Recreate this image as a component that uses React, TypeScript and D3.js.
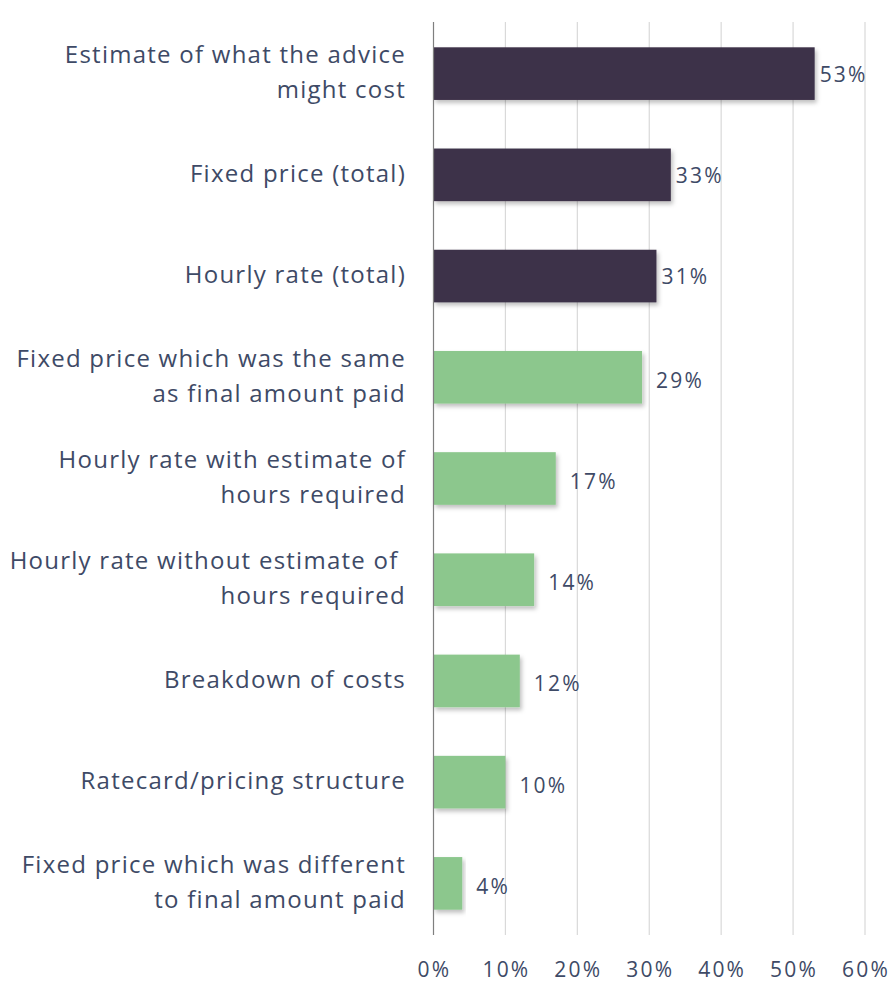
import React from "react";
import * as d3 from "d3";

const categories: string[][] = [
  ["Estimate of what the advice", "might cost"],
  ["Fixed price (total)"],
  ["Hourly rate (total)"],
  ["Fixed price which was the same", "as final amount paid"],
  ["Hourly rate with estimate of", "hours required"],
  ["Hourly rate without estimate of ", "hours required"],
  ["Breakdown of costs"],
  ["Ratecard/pricing structure"],
  ["Fixed price which was different", "to final amount paid"],
];
const values: number[] = [53, 33, 31, 29, 17, 14, 12, 10, 4];
const groups: string[] = ["total", "total", "total", "detail", "detail", "detail", "detail", "detail", "detail"];
const ticks: number[] = [0, 10, 20, 30, 40, 50, 60];

const W = 891;
const H = 983;
const FONT = "'Open Sans', sans-serif";
const TEXT = "#3e4a66";
const COLORS: Record<string, string> = { total: "#3c3148", detail: "#8cc78d" };

export default function App() {
  const x = d3.scaleLinear().domain([0, 60]).range([433.5, 865]);
  const y = d3
    .scaleBand<number>()
    .domain(values.map((_, i) => i))
    .range([22, 935])
    .paddingInner(0.48)
    .paddingOuter(0.25);
  const bw = y.bandwidth();

  return (
    <svg
      width={W}
      height={H}
      style={{ position: "absolute", left: 0, top: 0, background: "#fff" }}
      fontFamily={FONT}
    >
      <defs>
        <filter id="shadow" x="-5%" y="-10%" width="115%" height="135%">
          <feDropShadow dx="2" dy="3" stdDeviation="2" floodColor="#000" floodOpacity="0.25" />
        </filter>
      </defs>
      {ticks.slice(1).map((t) => (
        <line key={t} x1={x(t)} x2={x(t)} y1={22} y2={935} stroke="#d9d9d9" strokeWidth={1.2} />
      ))}
      {values.map((v, i) => (
        <rect
          key={i}
          x={x(0)}
          y={y(i)}
          width={x(v) - x(0)}
          height={bw}
          fill={COLORS[groups[i]]}
          filter="url(#shadow)"
        />
      ))}
      <line x1={x(0)} x2={x(0)} y1={22} y2={935} stroke="#7f7f7f" strokeWidth={1.2} />
      {values.map((v, i) => (
        <text
          key={i}
          x={x(v) + (groups[i] === "total" ? 5 : 14)}
          y={(y(i) as number) + bw / 2 + (groups[i] === "total" ? 1 : 3)}
          dy="0.35em"
          fontSize={21}
          letterSpacing={2.2}
          fill={TEXT}
        >
          {v}%
        </text>
      ))}
      {categories.map((lines, i) => {
        const cy = (y(i) as number) + bw / 2 - 1.5;
        const lh = 35;
        const start = cy - ((lines.length - 1) * lh) / 2;
        return (
          <text key={i} fontSize={24} fill={TEXT} letterSpacing={1.25} style={{ whiteSpace: "pre" }}>
            {lines.map((l, j) => (
              <tspan key={j} x={406} y={start + j * lh} dy="0.35em" textAnchor="end">
                {l}
              </tspan>
            ))}
          </text>
        );
      })}
      {ticks.map((t) => (
        <text key={t} x={x(t) + 1} y={977} textAnchor="middle" fontSize={21} fill={TEXT} letterSpacing={2.2}>
          {t}%
        </text>
      ))}
    </svg>
  );
}
